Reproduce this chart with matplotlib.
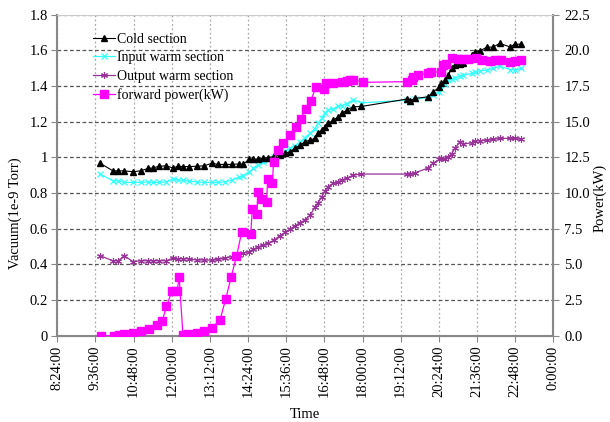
import matplotlib
matplotlib.use("Agg")
import matplotlib.pyplot as plt
import numpy as np

plt.rcParams['font.family'] = ['Liberation Serif', 'DejaVu Serif']

# ---- data ----
vac_times = ["9:45", "10:09", "10:19", "10:30", "10:47", "11:01", "11:16", "11:25", "11:35", "11:50",
             "12:02", "12:12", "12:21", "12:33", "12:47", "13:01", "13:15", "13:28", "13:40", "13:53",
             "14:06", "14:14", "14:26", "14:34", "14:43", "14:53", "15:02", "15:13", "15:24", "15:34",
             "15:43", "15:52", "16:02", "16:11", "16:21", "16:30", "16:36", "16:43", "16:49", "16:55",
             "17:05", "17:14", "17:21", "17:30", "17:42", "17:58", "19:23", "19:29", "19:39", "20:04",
             "20:13", "20:25", "20:29", "20:36", "20:42", "20:48", "20:54", "21:04", "21:10", "21:26",
             "21:32", "21:42", "21:54", "22:07", "22:19", "22:38", "22:48", "23:00"]

cold_section = [0.966, 0.924, 0.924, 0.924, 0.919, 0.924, 0.938, 0.940, 0.950, 0.952,
                0.940, 0.950, 0.948, 0.948, 0.950, 0.952, 0.966, 0.960, 0.960, 0.960,
                0.963, 0.960, 0.988, 0.990, 0.990, 0.995, 0.998, 1.005, 1.012, 1.022,
                1.031, 1.050, 1.068, 1.087, 1.096, 1.106, 1.134, 1.152, 1.171, 1.190,
                1.208, 1.227, 1.246, 1.264, 1.283, 1.285, 1.326, 1.317, 1.330, 1.339,
                1.367, 1.392, 1.414, 1.432, 1.460, 1.498, 1.517, 1.522, 1.526, 1.573,
                1.591, 1.597, 1.616, 1.619, 1.638, 1.619, 1.634, 1.634]

input_warm = [0.906, 0.868, 0.868, 0.859, 0.859, 0.860, 0.862, 0.859, 0.860, 0.862,
              0.878, 0.872, 0.872, 0.866, 0.862, 0.859, 0.859, 0.859, 0.862, 0.872,
              0.887, 0.896, 0.919, 0.938, 0.956, 0.971, 0.984, 1.003, 1.020, 1.035,
              1.050, 1.065, 1.085, 1.110, 1.134, 1.160, 1.190, 1.220, 1.250, 1.265,
              1.270, 1.285, 1.290, 1.300, 1.322, 1.305, 1.320, 1.310, 1.325, 1.335,
              1.350, 1.367, 1.385, 1.410, 1.432, 1.440, 1.445, 1.455, 1.460, 1.470,
              1.480, 1.485, 1.488, 1.498, 1.511, 1.492, 1.488, 1.498]

output_warm = [0.448, 0.420, 0.420, 0.448, 0.415, 0.420, 0.420, 0.420, 0.420, 0.420,
               0.435, 0.430, 0.432, 0.430, 0.424, 0.424, 0.424, 0.428, 0.434, 0.443,
               0.450, 0.462, 0.471, 0.484, 0.496, 0.510, 0.518, 0.536, 0.560, 0.580,
               0.597, 0.615, 0.633, 0.648, 0.676, 0.719, 0.745, 0.779, 0.810, 0.835,
               0.854, 0.863, 0.872, 0.882, 0.900, 0.906, 0.906, 0.908, 0.913, 0.940,
               0.966, 0.988, 0.994, 0.988, 1.003, 1.018, 1.050, 1.087, 1.074, 1.081,
               1.092, 1.092, 1.096, 1.100, 1.106, 1.106, 1.106, 1.100]

power_times = ["9:46", "10:10", "10:20", "10:30", "10:47", "11:02", "11:17", "11:32", "11:42", "11:50",
               "12:00", "12:10", "12:14", "12:21", "12:31", "12:47", "13:01", "13:16", "13:31", "13:42",
               "13:52", "14:02", "14:12", "14:29", "14:32", "14:41", "14:42", "14:51", "14:59", "15:01",
               "15:10", "15:12", "15:20", "15:30", "15:43", "15:54", "16:03", "16:13", "16:22", "16:32",
               "16:47", "16:52", "17:05", "17:21", "17:30", "17:36", "17:42", "18:01", "19:23", "19:33",
               "19:36", "19:45", "20:04", "20:10", "20:28", "20:32", "20:38", "20:48", "21:01", "21:10",
               "21:19", "21:35", "21:45", "22:00", "22:10", "22:22", "22:38", "22:48", "23:00"]

forward_power = [0.0, 0.0, 0.05, 0.1, 0.2, 0.3, 0.5, 0.75, 1.05, 2.05,
                 3.1, 3.1, 4.1, 0.05, 0.1, 0.2, 0.3, 0.55, 1.1, 2.6,
                 4.1, 5.55, 7.25, 7.15, 8.85, 8.55, 10.05, 9.55, 9.4, 11.0,
                 10.7, 12.2, 13.0, 13.5, 14.05, 14.65, 15.2, 15.9, 16.45, 17.4,
                 17.25, 17.7, 17.7, 17.8, 17.85, 17.9, 17.95, 17.75, 17.8, 17.95,
                 18.15, 18.25, 18.4, 18.45, 18.5, 18.95, 19.05, 19.45, 19.4, 19.4,
                 19.4, 19.45, 19.3, 19.25, 19.3, 19.3, 19.2, 19.25, 19.35]

series_names = ["Cold section", "Input warm section", "Output warm section", "forward power(kW)"]


def to_day(t):
    h, m = t.split(":")
    return (int(h) + int(m) / 60.0) / 24.0


def fmt_tick(v):
    mins = int(round(v * 24 * 60)) % (24 * 60)
    return "%d:%02d:00" % (mins // 60, mins % 60)


vx = np.array([to_day(t) for t in vac_times])
px = np.array([to_day(t) for t in power_times])

fig = plt.figure(figsize=(6.1, 4.22), dpi=100)
ax = fig.add_axes([0.094, 0.2045, 0.813, 0.761])
ax2 = ax.twinx()

ax.set_zorder(1)
ax2.set_zorder(2)
ax.patch.set_visible(True)
ax2.patch.set_visible(False)

l1, = ax.plot(vx, cold_section, color='black', lw=0.8, marker='^', ms=4.5, zorder=5,
              label=series_names[0])
l2, = ax.plot(vx, input_warm, color='#33FFFF', lw=0.9, marker='x', ms=4, mew=0.9, zorder=4,
              label=series_names[1])
l3, = ax.plot(vx, output_warm, color='#993399', lw=0.9, marker=(6, 2, 0), ms=5, mew=0.8,
              zorder=3, label=series_names[2])
l4, = ax2.plot(px, forward_power, color='#FF00FF', lw=0.9, marker='s', ms=5.3, zorder=5,
               label=series_names[3])

xticks = np.arange(0.35, 1.0001, 0.05)
ax.set_xlim(0.35, 1.0)
ax.set_xticks(xticks)
ax.set_xticklabels([fmt_tick(v) for v in xticks], rotation=90)

ax.set_ylim(0, 1.8)
ax.set_yticks(np.arange(0, 1.81, 0.2))
ax.set_yticklabels(["0", "0.2", "0.4", "0.6", "0.8", "1", "1.2", "1.4", "1.6", "1.8"])
ax2.set_ylim(0, 22.5)
ax2.set_yticks(np.arange(0, 22.51, 2.5))
ax2.set_yticklabels(["%.1f" % v for v in np.arange(0, 22.51, 2.5)])

ax.grid(axis='y', color='#555555', ls=(0, (3, 2)), lw=0.9)
ax.grid(axis='x', color='#aaaaaa', ls=(0, (1.5, 2)), lw=0.9)
ax.set_axisbelow(True)

for a in (ax, ax2):
    for s in a.spines.values():
        s.set_color('#888888')
    a.spines['top'].set_color('#cccccc')
    a.spines['top'].set_linewidth(0.6)
ax.spines['left'].set_linewidth(1.5)
ax.spines['bottom'].set_linewidth(1.5)
ax2.spines['right'].set_linewidth(1.5)
ax2.spines['left'].set_visible(False)

ax.tick_params(axis='both', direction='out', length=4, color='#888888', labelsize=10.5, pad=3)
ax2.tick_params(axis='y', direction='out', length=4, color='#888888', labelsize=10.5, pad=4)

ax.set_xlabel("Time", fontsize=10.5, labelpad=8)
ax.set_ylabel("Vacuum(1e-9 Torr)", fontsize=10.5, va='center', ha='center')
ax.yaxis.set_label_coords(-0.085, 0.38)
ax2.set_ylabel("Power(kW)", fontsize=10.5, rotation=90, va='center', ha='center')
ax2.yaxis.set_label_coords(1.093, 0.43)

leg = ax2.legend(handles=[l1, l2, l3, l4], loc='upper left', bbox_to_anchor=(0.06, 0.96),
                 frameon=False, fontsize=10, handlelength=1.6, handletextpad=0.15,
                 labelspacing=0.38, borderaxespad=0)

fig.savefig("out.png", dpi=100)
